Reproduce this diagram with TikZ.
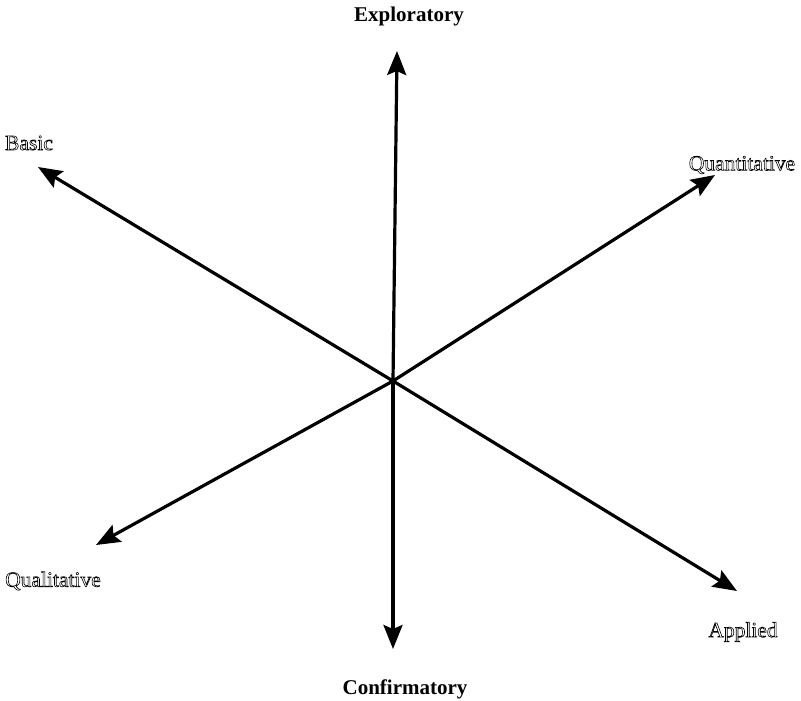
\documentclass[tikz,border=0pt]{standalone}
\usepackage{fontspec}
\setmainfont{Liberation Serif}
\usetikzlibrary{arrows.meta}
\newcommand{\outl}[1]{\special{pdf:literal direct 1 Tr 0.6 w}#1\special{pdf:literal direct 0 Tr}}
\tikzset{
  axis/.style={line width=3.2pt, -{Stealth[length=24pt,width=19pt,inset=4pt]}},
  boldlbl/.style={font=\fontsize{21}{25}\selectfont\bfseries, inner sep=0pt},
  outlbl/.style={font=\fontsize{21.5}{25}\selectfont, inner sep=0pt}
}
\begin{document}
\begin{tikzpicture}[x=1pt,y=-1pt]
\useasboundingbox (0,0) rectangle (801,701);
\coordinate (c) at (393,381);
\coordinate (tup) at (397,51);
\coordinate (tdown) at (393,649);
\coordinate (tbasic) at (38,167);
\coordinate (tquant) at (715,175);
\coordinate (tqual) at (96,545);
\coordinate (tappl) at (737,591);
\draw[axis] (c) -- (tup);
\draw[axis] (c) -- (tdown);
\draw[axis] (c) -- (tbasic);
\draw[axis] (c) -- (tquant);
\draw[axis] (c) -- (tqual);
\draw[axis] (c) -- (tappl);
\node[boldlbl] (expl) at (409,16) {Exploratory};
\node[boldlbl] (conf) at (405,689) {Confirmatory};
\node[outlbl] (basic) at (29,143) {\outl{Basic}};
\node[outlbl] (quant) at (742,165) {\outl{Quantitative}};
\node[outlbl] (qual) at (53,581) {\outl{Qualitative}};
\node[outlbl] (appl) at (743,632) {\outl{Applied}};
\end{tikzpicture}
\end{document}
